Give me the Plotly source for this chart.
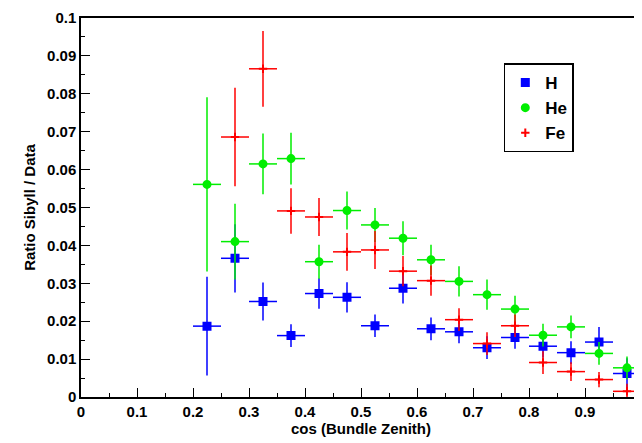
import plotly.graph_objects as go

x_h = [0.225, 0.275, 0.325, 0.375, 0.425, 0.475, 0.525, 0.575, 0.625, 0.675, 0.725, 0.775, 0.825, 0.875, 0.925, 0.975]
h_y = [0.0187, 0.0366, 0.0252, 0.0162, 0.0273, 0.0263, 0.0188, 0.0287, 0.0180, 0.0172, 0.0130, 0.0157, 0.0134, 0.0117, 0.0145, 0.0062]
h_e = [0.013, 0.009, 0.005, 0.003, 0.004, 0.004, 0.003, 0.004, 0.003, 0.003, 0.003, 0.003, 0.003, 0.003, 0.004, 0.004]
he_y = [0.0561, 0.0410, 0.0615, 0.0629, 0.0357, 0.0492, 0.0454, 0.0419, 0.0362, 0.0305, 0.0270, 0.0232, 0.0163, 0.0185, 0.0115, 0.0077]
he_e = [0.023, 0.010, 0.008, 0.0068, 0.0045, 0.005, 0.0045, 0.0045, 0.004, 0.004, 0.004, 0.0035, 0.003, 0.003, 0.003, 0.003]
x_fe = x_h[1:]
fe_y = [0.0686, 0.0866, 0.0491, 0.0475, 0.0383, 0.0388, 0.0332, 0.0307, 0.0204, 0.0141, 0.0188, 0.0091, 0.0067, 0.0046, 0.0015]
fe_e = [0.013, 0.010, 0.006, 0.005, 0.005, 0.005, 0.004, 0.004, 0.003, 0.003, 0.003, 0.003, 0.0025, 0.002, 0.002]
x_ticks = [0, 0.1, 0.2, 0.3, 0.4, 0.5, 0.6, 0.7, 0.8, 0.9, 1]
x_labels = ['0', '0.1', '0.2', '0.3', '0.4', '0.5', '0.6', '0.7', '0.8', '0.9', '1']
y_ticks = [0, 0.01, 0.02, 0.03, 0.04, 0.05, 0.06, 0.07, 0.08, 0.09, 0.1]
y_labels = ['0', '0.01', '0.02', '0.03', '0.04', '0.05', '0.06', '0.07', '0.08', '0.09', '0.1']
BIN_HALF = 0.025

fig = go.Figure()


def add_series(x, y, e, name, color, symbol, size):
    fig.add_trace(go.Scatter(
        x=x, y=y, mode='markers', name=f'<b>{name}</b>',
        marker=dict(color=color, symbol=symbol, size=size, line=dict(width=2, color=color)),
        error_x=dict(type='constant', value=BIN_HALF, color=color, thickness=1.5, width=0),
        error_y=dict(type='data', array=e, color=color, thickness=1.5, width=0),
    ))


add_series(x_h, h_y, h_e, 'H', '#0000ff', 'square', 7)
add_series(x_h, he_y, he_e, 'He', '#00ee00', 'circle', 7)
add_series(x_fe, fe_y, fe_e, 'Fe', '#ff0000', 'cross-thin', 6)

font = dict(family='Liberation Sans', size=15, color='black')
axis_common = dict(ticks='inside', showline=True, linecolor='black', linewidth=1.5,
                   mirror=True, showgrid=False, zeroline=False, tickcolor='black',
                   ticklen=9, minor=dict(ticks='inside', ticklen=4, tickcolor='black', nticks=5),
                   tickfont=font, automargin=False, ticklabeloverflow='allow')

# the page puts the graph 8px right and down, so margins are shifted to match
fig.update_layout(
    width=642, height=443, margin=dict(l=73, r=9, t=10, b=54),
    plot_bgcolor='white', paper_bgcolor='white',
    xaxis=dict(range=[0, 1], tickvals=x_ticks, ticktext=[f'<b>{t}</b>' for t in x_labels],
               tickangle=0,
               title=dict(text='<b>cos (Bundle Zenith)</b>', standoff=2, font=font),
               **axis_common),
    yaxis=dict(range=[0, 0.1], tickvals=y_ticks, ticktext=[f'<b>{t}</b>' for t in y_labels],
               title=dict(text='<b>Ratio Sibyll / Data</b>', standoff=8, font=font),
               **axis_common),
    legend=dict(x=0.755, y=0.88, xanchor='left', yanchor='top',
                bordercolor='black', borderwidth=1.5, bgcolor='white',
                font=dict(family='Liberation Sans', size=17, color='black'),
                itemwidth=30, tracegroupgap=12),
)
fig.write_html('out.html')
